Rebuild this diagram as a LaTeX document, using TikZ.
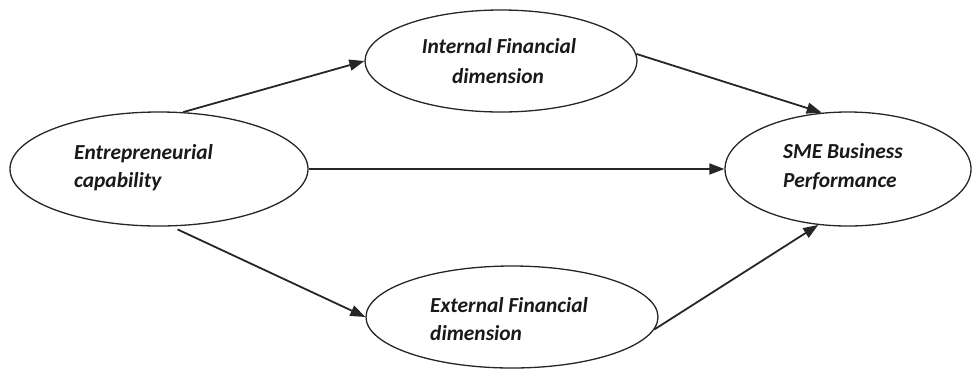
\documentclass[tikz,border=0pt]{standalone}
\usepackage{fontspec}
\setmainfont{Carlito}
\usetikzlibrary{arrows.meta,shapes.geometric}
\begin{document}
\begin{tikzpicture}[x=1pt,y=-1pt,
  oval/.style={ellipse,draw=black!85,line width=1.3pt,inner sep=0pt},
  lbl/.style={font=\fontsize{21.4}{28}\selectfont\bfseries\itshape,inner sep=0pt,text=black!90},
  link/.style={draw=black!85,line width=1.8pt,-{Triangle[length=15pt,width=11pt]}}]
\useasboundingbox (0,0) rectangle (972,368);
\node[oval,minimum width=298pt,minimum height=114pt] (L) at (159,169) {};
\node[oval,minimum width=272pt,minimum height=102pt] (T) at (501,61) {};
\node[oval,minimum width=292pt,minimum height=102pt] (B) at (512,317) {};
\node[oval,minimum width=246pt,minimum height=114pt] (R) at (848,169) {};
\node[lbl,anchor=base west] (l1) at (74,159) {Entrepreneurial};
\node[lbl,anchor=base west] (l2) at (74,187) {capability};
\node[lbl,anchor=base] (t1) at (499,53) {Internal Financial};
\node[lbl,anchor=base] (t2) at (498,83) {dimension};
\node[lbl,anchor=base west] (b1) at (430,312) {External Financial};
\node[lbl,anchor=base west] (b2) at (430,340) {dimension};
\node[lbl,anchor=base west] (r1) at (783,158) {SME Business};
\node[lbl,anchor=base west] (r2) at (783,187) {Performance};
\draw[link] (L.67) -- (T.west);
\draw[link] (T.3) -- (R.115);
\draw[link] (L.east) -- (R.west);
\draw[link,shorten <=7pt] (L.-78) -- (B.west);
\draw[link] (B.-5) -- (R.-118);
\end{tikzpicture}
\end{document}
